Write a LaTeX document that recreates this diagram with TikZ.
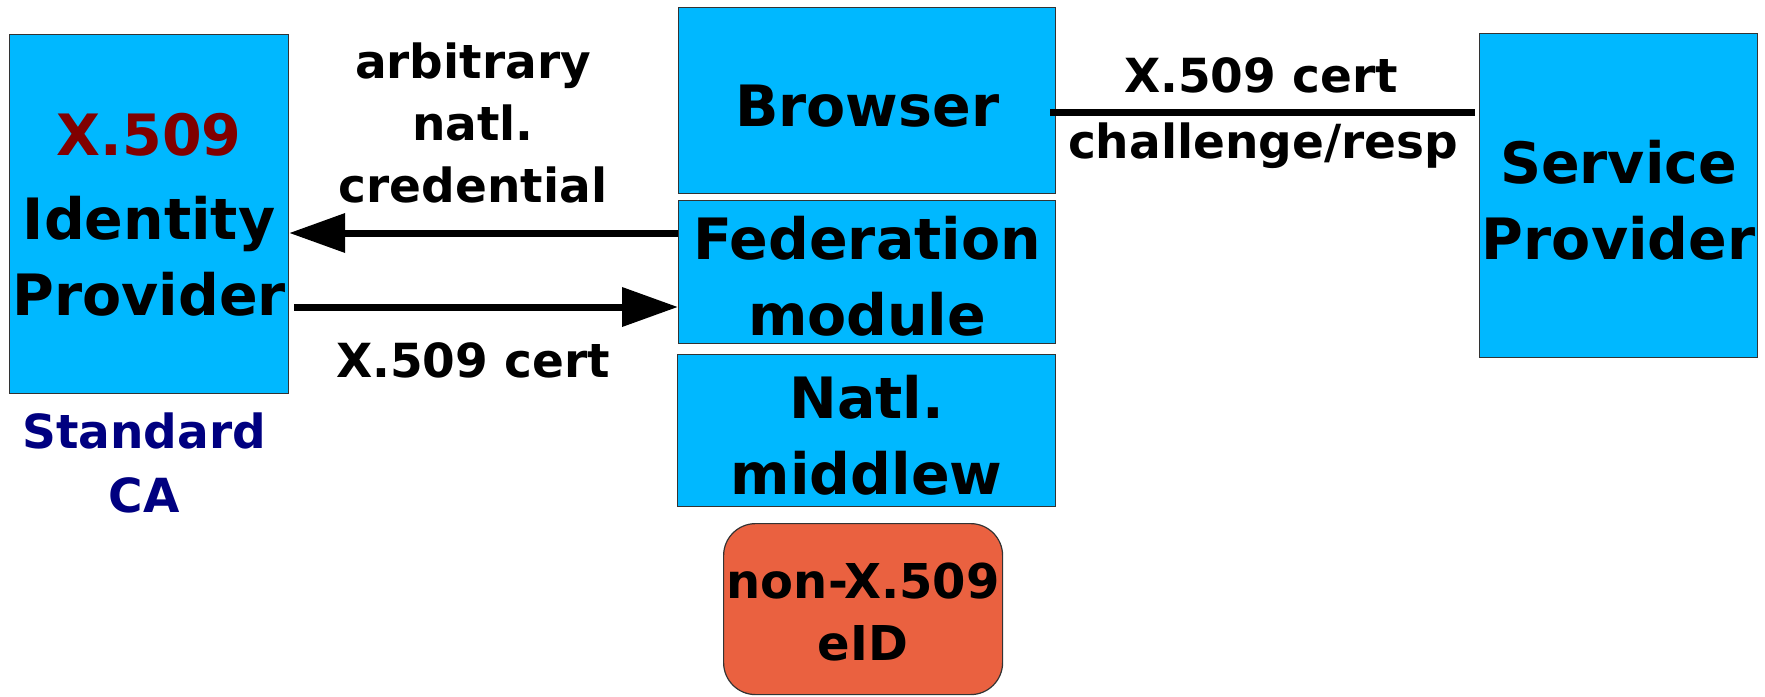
\documentclass[tikz,border=0pt]{standalone}
\usepackage{fontspec}
\setmainfont{DejaVu Sans}
\usetikzlibrary{arrows.meta,calc}
\definecolor{boxblue}{RGB}{0,184,255}
\definecolor{eidorange}{RGB}{234,97,64}
\definecolor{darkred}{RGB}{128,0,0}
\definecolor{navy}{RGB}{0,0,128}
\newcommand\bigup{\rule{0pt}{26pt}}
\newcommand\smallup{\rule{0pt}{21pt}}
\tikzset{
  blk/.style={draw=black!80, line width=0.6pt, fill=boxblue, anchor=north west, inner sep=0pt,
    align=center, font=\fontsize{28.5}{38}\selectfont\bfseries},
  lbl/.style={align=center, inner sep=0pt, font=\fontsize{23.5}{31}\selectfont\bfseries},
  arr/.style={line width=3.5pt, -{Triangle[length=28pt,width=19pt]}},
  conn/.style={line width=3.5pt}
}
\begin{document}
\begin{tikzpicture}[x=0.5pt,y=-0.5pt]
\useasboundingbox (0,0) rectangle (1765,696);
% boxes
\node[blk, minimum width=139.5pt, minimum height=179.5pt] (idp) at (9,34)
  {\rule{0pt}{22pt}\textcolor{darkred}{X.509}\\[4pt]Identity\\Provider};
\node[blk, minimum width=188.5pt, minimum height=93pt] (br) at (678,7) {\bigup Browser};
\node[blk, minimum width=188.5pt, minimum height=71.5pt] (fed) at (678,200) {\bigup Federation\\module};
\node[blk, minimum width=189pt, minimum height=76pt] (mw) at (677,354) {\bigup Natl.\\middlew};
\node[draw=black!80, line width=0.6pt, fill=eidorange, rounded corners=16pt, anchor=north west,
  minimum width=139.5pt, minimum height=85.5pt, inner sep=0pt, align=center,
  font=\fontsize{24}{31}\selectfont\bfseries] (eid) at (723,523) {\smallup non-X.509\\eID};
\node[blk, minimum width=139pt, minimum height=162pt] (sp) at (1479,33) {\bigup Service\\Provider};
% labels
\node[lbl] (l1) at (473,123) {arbitrary\\natl.\\credential};
\node[lbl] (l2) at (473,360) {X.509 cert};
\node[lbl] (l3) at (1261,75) {X.509 cert};
\node[lbl] (l4) at (1263,146) {challenge/resp};
\node[lbl, text=navy, font=\fontsize{23.5}{32}\selectfont\bfseries] (ca) at (144,463) {Standard\\CA};
% connectors
\draw[arr] (fed.west |- 0,233) -- (idp.east |- 0,233);
\draw[arr] ($(idp.east |- 0,307)+(5,0)$) -- (fed.west |- 0,307);
\draw[conn] ($(br.east |- 0,112)+(-6,0)$) -- ($(sp.west |- 0,112)+(-4,0)$);
\end{tikzpicture}
\end{document}
